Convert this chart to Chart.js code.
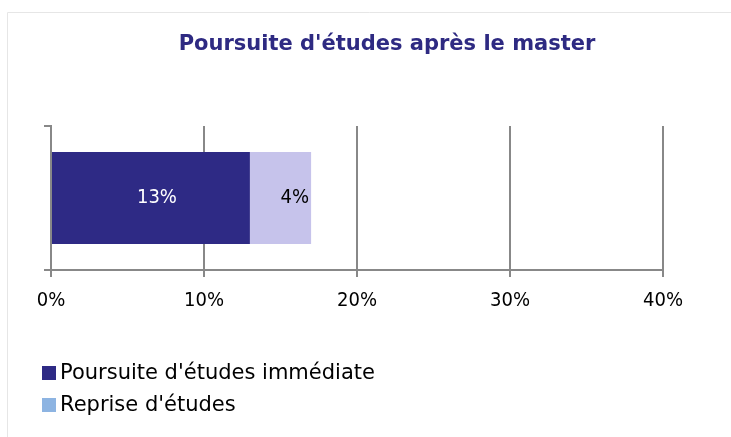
<!DOCTYPE html>
<html>
<head>
<meta charset="utf-8">
<script src="https://cdn.jsdelivr.net/npm/chart.js@4"></script>
<style>
    html, body { margin: 0; background: #fff; overflow: hidden; }
    #wrap { position: absolute; left: 0; top: 0; width: 731px; height: 437px; }
</style>
</head>
<body>
<div id="wrap"><canvas id="chart"></canvas></div>
<script>
// Data
const chartTitle = "Poursuite d'études après le master";
const categories = ['Master'];
const seriesNames = ["Poursuite d'études immédiate", "Reprise d'études"];
const immediateValues = [13];
const repriseValues = [4];
const xTicks = [0, 10, 20, 30, 40];

const barColors = ['#2e2a85', '#c6c3eb'];
const legendColors = ['#2e2a85', '#8db4e2'];
const labelColors = ['#ffffff', '#000000'];

const FONT = "'DejaVu Sans Condensed', 'DejaVu Sans', sans-serif";
const WIDE_FONT = "'DejaVu Sans', sans-serif";

// Light frame (top and left edges only) and the title centred over it
const frameTitle = {
    id: 'frameTitle',
    beforeDraw(chart) {
        const ctx = chart.ctx;
        ctx.save();
        ctx.strokeStyle = '#e6e6e6';
        ctx.lineWidth = 1;
        ctx.beginPath();
        ctx.moveTo(7.5, chart.height);
        ctx.lineTo(7.5, 12.5);
        ctx.lineTo(chart.width, 12.5);
        ctx.stroke();
        ctx.restore();
    },
    afterDraw(chart) {
        const ctx = chart.ctx;
        ctx.save();
        ctx.font = 'bold 21px ' + WIDE_FONT;
        ctx.fillStyle = '#2e2a82';
        ctx.textAlign = 'center';
        ctx.textBaseline = 'middle';
        ctx.fillText(chartTitle, 387, 45);
        ctx.restore();
    }
};

// Value labels inside the bars
const barLabels = {
    id: 'barLabels',
    afterDatasetsDraw(chart) {
        const ctx = chart.ctx;
        ctx.save();
        ctx.font = '20px ' + FONT;
        ctx.textBaseline = 'middle';
        chart.data.datasets.forEach((ds, i) => {
            chart.getDatasetMeta(i).data.forEach((bar, j) => {
                const p = bar.getProps(['x', 'y', 'base'], true);
                ctx.fillStyle = labelColors[i];
                if (i === 0) {
                    ctx.textAlign = 'center';
                    ctx.fillText(ds.data[j] + '%', (p.x + p.base) / 2 + 6, p.y);
                } else {
                    ctx.textAlign = 'right';
                    ctx.fillText(ds.data[j] + '%', p.x - 2, p.y);
                }
            });
        });
        ctx.restore();
    }
};

// Vertical legend under the axis
const sideLegend = {
    id: 'sideLegend',
    afterDraw(chart) {
        const ctx = chart.ctx;
        ctx.save();
        ctx.font = '21px ' + WIDE_FONT;
        ctx.textBaseline = 'middle';
        ctx.textAlign = 'left';
        seriesNames.forEach((name, i) => {
            const y = 373 + i * 32;
            ctx.fillStyle = legendColors[i];
            ctx.fillRect(42, y - 7, 14, 14);
            ctx.fillStyle = '#000';
            ctx.fillText(name, 60, y + 1);
        });
        ctx.restore();
    }
};

new Chart(document.getElementById('chart'), {
    type: 'bar',
    data: {
        labels: categories,
        datasets: [
            { label: seriesNames[0], data: immediateValues, backgroundColor: barColors[0] },
            { label: seriesNames[1], data: repriseValues, backgroundColor: barColors[1] }
        ]
    },
    options: {
        indexAxis: 'y',
        responsive: true,
        maintainAspectRatio: false,
        animation: false,
        datasets: {
            bar: { categoryPercentage: 1, barPercentage: 0.64 }
        },
        layout: {
            padding: { left: 44, right: 68, top: 126, bottom: 112 }
        },
        scales: {
            x: {
                stacked: true,
                min: 0,
                max: 40,
                afterBuildTicks(scale) {
                    scale.ticks = xTicks.map(v => ({ value: v }));
                },
                ticks: {
                    padding: 12,
                    color: '#000',
                    font: { family: FONT, size: 20 },
                    callback: v => v + '%'
                },
                grid: { color: '#888', lineWidth: 2, tickLength: 7 },
                border: { color: '#888', width: 2 }
            },
            y: {
                stacked: true,
                ticks: { display: false },
                grid: { drawOnChartArea: false, color: '#888', lineWidth: 2, tickLength: 7 },
                border: { color: '#888', width: 2 }
            }
        },
        plugins: {
            legend: { display: false },
            tooltip: { enabled: false },
            title: { display: false }
        }
    },
    plugins: [barLabels, sideLegend, frameTitle]
});
</script>
</body>
</html>
